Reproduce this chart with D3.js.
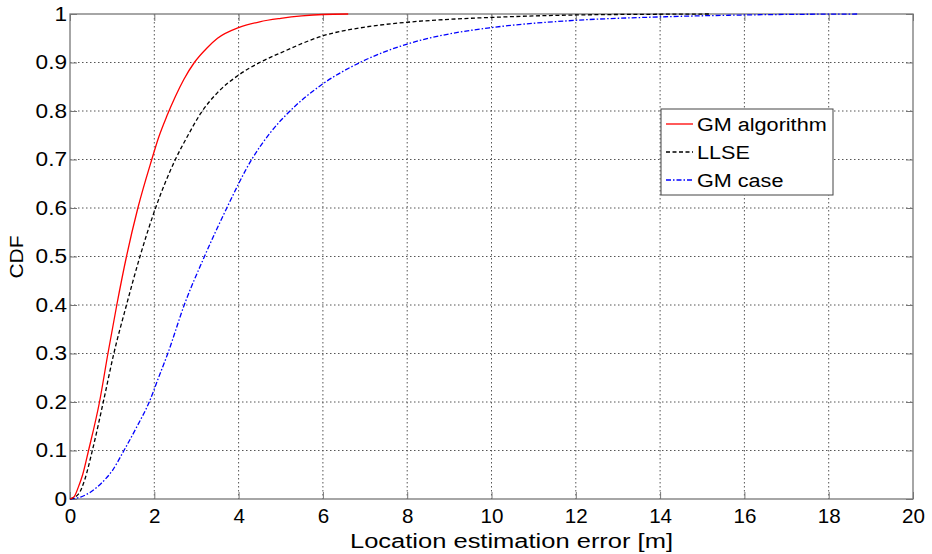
<!DOCTYPE html>
<html><head><meta charset="utf-8">
<script src="https://cdn.jsdelivr.net/npm/d3@7"></script>
<style>body{margin:0;background:#fff;} svg{display:block;font-family:"Liberation Sans",Arial,sans-serif;}</style>
</head><body>
<svg id="c" width="932" height="554"></svg>
<script>
const xTicks = [0,2,4,6,8,10,12,14,16,18,20];
const yTicks = [0,0.1,0.2,0.3,0.4,0.5,0.6,0.7,0.8,0.9,1];
const seriesNames = ["GM algorithm","LLSE","GM case"];
const gmAlgoX = [0,0.1,0.2,0.3,0.44,0.7,0.9,1.11,1.34,1.61,1.94,2.1,2.3,2.5,2.7,2.95,3.25,3.5,4,4.5,5,5.5,6,6.6];
const gmAlgoY = [0,0.005,0.025,0.05,0.1,0.2,0.3,0.4,0.5,0.6,0.7,0.745,0.79,0.83,0.865,0.9,0.93,0.95,0.972,0.984,0.991,0.996,0.999,1.0];
const llseX = [0,0.2,0.35,0.53,0.79,1.04,1.34,1.66,2.03,2.5,2.8,3.1,3.5,4,4.5,5,6,7,8,9,10,12,14,15.2];
const llseY = [0,0.01,0.04,0.1,0.2,0.3,0.4,0.5,0.6,0.7,0.75,0.795,0.838,0.874,0.9,0.92,0.955,0.973,0.983,0.989,0.993,0.998,0.9995,1.0];
const gmCaseX = [0,0.25,0.5,0.75,1,1.28,1.58,1.88,2.1,2.32,2.71,3.19,3.72,4.31,4.75,5.22,6,6.88,8,9,10,12,14,16,18.7];
const gmCaseY = [0,0.004,0.015,0.033,0.058,0.1,0.148,0.2,0.25,0.3,0.4,0.5,0.6,0.7,0.755,0.8,0.856,0.9,0.938,0.959,0.972,0.987,0.994,0.998,1.0];

const svg = d3.select("#c");
const L=70, R=913, T=14, B=499;
const x = d3.scaleLinear().domain([0,20]).range([L,R]);
const y = d3.scaleLinear().domain([0,1]).range([B,T]);

function stretch(sel,k){
  sel.each(function(){
    const len=this.getComputedTextLength();
    d3.select(this).attr("textLength",len*k).attr("lengthAdjust","spacingAndGlyphs");
  });
}

// grid
const g = svg.append("g");
g.selectAll("line.gx").data(xTicks.slice(1,-1)).enter().append("line")
  .attr("x1",d=>x(d)).attr("x2",d=>x(d)).attr("y1",T).attr("y2",B)
  .attr("stroke","#555").attr("stroke-width",1).attr("stroke-dasharray","1.5,2.5");
g.selectAll("line.gy").data(yTicks.slice(1,-1)).enter().append("line")
  .attr("y1",d=>y(d)).attr("y2",d=>y(d)).attr("x1",L).attr("x2",R)
  .attr("stroke","#555").attr("stroke-width",1).attr("stroke-dasharray","1.5,2.5");

// ticks (inward) via axes
const tl = 7;
const axB = d3.axisBottom(x).tickValues(xTicks).tickSize(-tl).tickPadding(10).tickFormat(d3.format("d"));
const axL = d3.axisLeft(y).tickValues(yTicks).tickSize(-tl).tickPadding(3).tickFormat(d=>d===0||d===1?String(d):d3.format(".1f")(d));
const axT = d3.axisTop(x).tickValues(xTicks).tickSize(-tl).tickFormat("");
const axR = d3.axisRight(y).tickValues(yTicks).tickSize(-tl).tickFormat("");
function style(sel){
  sel.select(".domain").remove();
  sel.selectAll(".tick line").attr("stroke","#777").attr("stroke-width",1);
  sel.selectAll("text").attr("font-size",20).attr("fill","#000").attr("font-family","Liberation Sans, Arial, sans-serif");
}
svg.append("g").attr("transform",`translate(0,${B})`).call(axB).call(style).selectAll("text").call(stretch,1.03);
svg.append("g").attr("transform",`translate(${L},0)`).call(axL).call(style).selectAll("text").call(stretch,1.13);
svg.append("g").attr("transform",`translate(0,${T})`).call(axT).call(style);
svg.append("g").attr("transform",`translate(${R},0)`).call(axR).call(style);

// frame
svg.append("rect").attr("x",L).attr("y",T).attr("width",R-L).attr("height",B-T)
  .attr("fill","none").attr("stroke","#777").attr("stroke-width",1.3);

// curves
const line = d3.line().x(d=>x(d[0])).y(d=>y(d[1])).curve(d3.curveMonotoneX);
const series = [
  {xs:gmAlgoX, ys:gmAlgoY, color:"#ff0000", dash:null},
  {xs:llseX, ys:llseY, color:"#000000", dash:"4,2.5"},
  {xs:gmCaseX, ys:gmCaseY, color:"#0000ff", dash:"5,2,1.5,2"}
];
series.slice().reverse().forEach(s=>{
  const data = s.xs.map((v,i)=>[v,s.ys[i]]);
  svg.append("path").datum(data).attr("d",line).attr("fill","none")
    .attr("stroke",s.color).attr("stroke-width",1.3)
    .attr("stroke-dasharray",s.dash);
});

// labels
svg.append("text").attr("x",511.5).attr("y",548).attr("text-anchor","middle")
  .attr("font-size",20).attr("textLength",323).attr("lengthAdjust","spacingAndGlyphs")
  .text("Location estimation error [m]");
svg.append("text").attr("transform","translate(23,257) rotate(-90)").attr("text-anchor","middle")
  .attr("font-size",18).attr("textLength",43).attr("lengthAdjust","spacingAndGlyphs").text("CDF");

// legend
const lg = svg.append("g");
lg.append("rect").attr("x",661).attr("y",109).attr("width",172).attr("height",86)
  .attr("fill","#fff").attr("stroke","#444").attr("stroke-width",1);
seriesNames.forEach((n,i)=>{
  const yy = 124 + i*28;
  lg.append("line").attr("x1",666).attr("x2",693).attr("y1",yy).attr("y2",yy)
    .attr("stroke",series[i].color).attr("stroke-width",1.3).attr("stroke-dasharray",series[i].dash);
  lg.append("text").attr("x",697).attr("y",yy+6.7).attr("font-size",18).text(n).call(stretch,1.2);
});
</script>
</body></html>
